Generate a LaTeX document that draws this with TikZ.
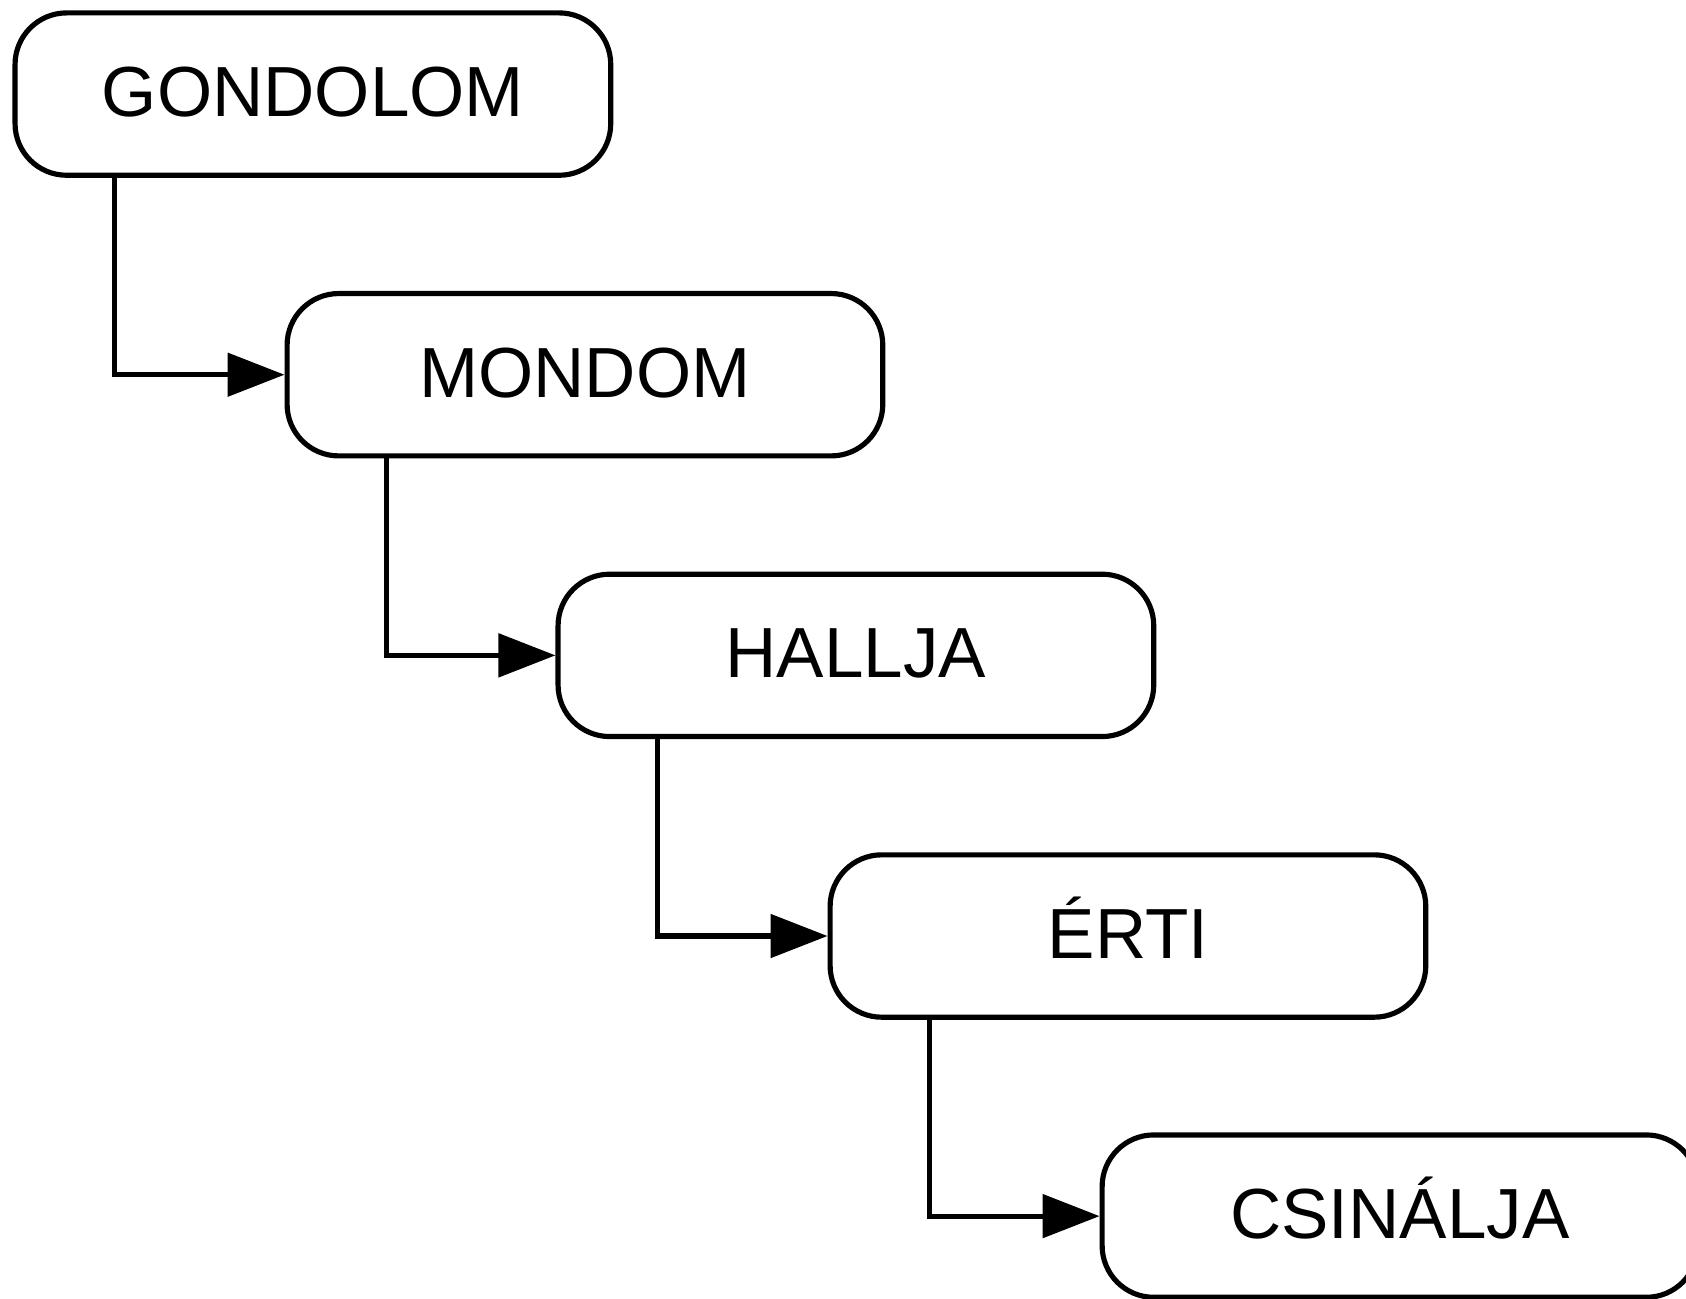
\documentclass[tikz,border=0pt]{standalone}
\usepackage{fontspec}
\setmainfont{Liberation Sans}
\usetikzlibrary{arrows.meta}
\begin{document}
\begin{tikzpicture}[x=0.5pt,y=-0.5pt,
  box/.style={draw=black, line width=2.4pt, rounded corners=24pt, minimum width=277pt, minimum height=75.5pt, inner sep=0pt,
    font=\fontsize{33}{39}\selectfont, text height=26.5pt, text depth=5.5pt},
  conn/.style={draw=black, line width=2.4pt, -{Triangle[length=26.5pt,width=20pt]}}]
\useasboundingbox (0,0) rectangle (1568,1208);
\node[box] (g) at (291,87.5) {GONDOLOM};
\node[box] (m) at (544,348.5) {MONDOM};
\node[box] (h) at (796,609.5) {HALLJA};
\node[box] (e) at (1049,870.5) {ÉRTI};
\node[box] (c) at (1302,1131) {CSINÁLJA};
\draw[conn] ([xshift=47.5pt]g.south west) |- (m.west);
\draw[conn] ([xshift=47.5pt]m.south west) |- (h.west);
\draw[conn] ([xshift=47.5pt]h.south west) |- (e.west);
\draw[conn] ([xshift=47.5pt]e.south west) |- (c.west);
\end{tikzpicture}
\end{document}
